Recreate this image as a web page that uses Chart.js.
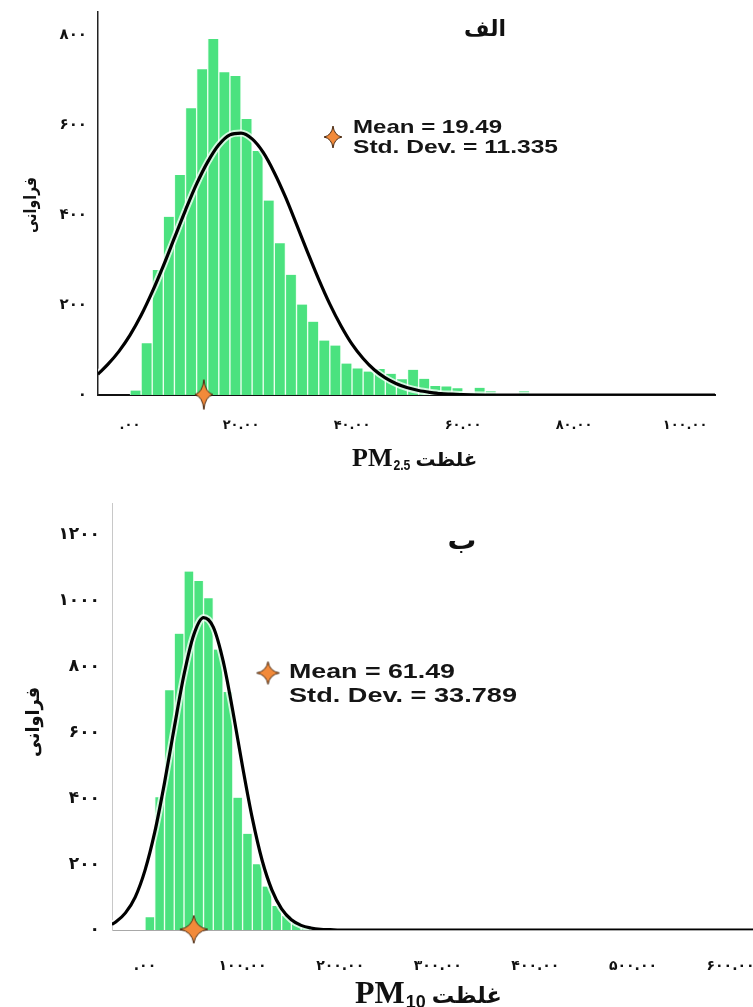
<!DOCTYPE html>
<html><head><meta charset="utf-8">
<script src="https://cdn.jsdelivr.net/npm/chart.js@4.4.0/dist/chart.umd.min.js"></script>
<style>
html,body{margin:0;padding:0;background:#fff;overflow:hidden;}
#w1{position:absolute;left:0;top:0;width:753px;height:490px;}
#w2{position:absolute;left:0;top:490px;width:753px;height:517px;}
</style></head><body>
<div id="w1"><canvas id="c1"></canvas></div>
<div id="w2"><canvas id="c2"></canvas></div>
<script>
// ---------- Chart A (PM2.5) ----------
const binWidthA = 2;
const binStartsA = [0,2,4,6,8,10,12,14,16,18,20,22,24,26,28,30,32,34,36,38,40,42,44,46,48,50,52,54,56,58,60,62,64,66,68,70];
const countsA    = [10,115,278,396,489,637,724,791,717,709,613,542,432,337,267,201,163,121,110,70,59,52,58,47,35,56,36,20,19,15,5,16,9,0,0,9];
const curveXA = [-5.8,-4,-2,0,2,4,6,8,10,12,14,16,18,20,22,24,26,28,30,32,34,36,38,40,42,44,46,48,50,52,54,56,58,60,65,70,80,90,100,105.4];
const curveYA = [46,68,97,133,177,229,287,349,411,469,518,556,578,582,569,539,494,440,379,317,257,202,154,113,81,56,38,25,16,10,6,3,2,1,0,0,0,0,0,0];
const yTicksA = [0,200,400,600,800];
const yTickLabelsA = ['۰','۲۰۰','۴۰۰','۶۰۰','۸۰۰'];
const xTicksA = [0,20,40,60,80,100];
const xTickLabelsA = ['.۰۰','۲۰.۰۰','۴۰.۰۰','۶۰.۰۰','۸۰.۰۰','۱۰۰.۰۰'];
const markerA = [{x:13.3, y:1}];
const meanA = '19.49', sdA = '11.335';

// ---------- Chart B (PM10) ----------
const binWidthB = 10;
const binStartsB = [0,10,20,30,40,50,60,70,80,90,100,110,120,130,140,150,160,170];
const countsB    = [39,403,728,900,1089,1060,1008,852,723,402,292,200,132,73,43,23,11,4];
const curveXB = [-34,-30,-20,-10,0,10,20,30,40,50,60,70,80,90,100,110,120,130,140,150,160,170,180,190,200,250,300,400,500,623];
const curveYB = [17,24,52,100,181,297,447,615,776,897,949,920,818,665,496,339,212,122,64,31,14,6,2,1,0,0,0,0,0,0];
const yTicksB = [0,200,400,600,800,1000,1200];
const yTickLabelsB = ['۰','۲۰۰','۴۰۰','۶۰۰','۸۰۰','۱۰۰۰','۱۲۰۰'];
const xTicksB = [0,100,200,300,400,500,600];
const xTickLabelsB = ['.۰۰','۱۰۰.۰۰','۲۰۰.۰۰','۳۰۰.۰۰','۴۰۰.۰۰','۵۰۰.۰۰','۶۰۰.۰۰'];
const markerB = [{x:50, y:2}];
const meanB = '61.49', sdB = '33.789';

const titleA = 'الف', titleB = 'ب';
const yTitle = 'فراوانی';
const xTitleWord = 'غلظت';

function starImage(w, h) {
  const c = document.createElement('canvas'); c.width = w + 2; c.height = h + 2;
  const g = c.getContext('2d');
  const cx = c.width / 2, cy = c.height / 2, rx = w / 2, ry = h / 2, ix = rx * 0.14, iy = ry * 0.14;
  g.beginPath();
  g.moveTo(cx, cy - ry);
  g.quadraticCurveTo(cx + ix, cy - iy, cx + rx, cy);
  g.quadraticCurveTo(cx + ix, cy + iy, cx, cy + ry);
  g.quadraticCurveTo(cx - ix, cy + iy, cx - rx, cy);
  g.quadraticCurveTo(cx - ix, cy - iy, cx, cy - ry);
  g.closePath();
  g.fillStyle = '#f28a3a'; g.fill();
  g.lineWidth = 1; g.strokeStyle = '#4a2a12'; g.stroke();
  return c;
}

function fitText(ctx, text, x, y, font, targetW, align, rot) {
  ctx.save();
  ctx.font = font;
  const w = ctx.measureText(text).width;
  const s = targetW ? targetW / w : 1;
  ctx.translate(x, y);
  if (rot) ctx.rotate(rot);
  ctx.scale(s, 1);
  ctx.textAlign = align || 'left';
  ctx.fillText(text, 0, 0);
  ctx.restore();
  return w * s;
}

function makeChart(id, o) {
  const W = 753;
  const decor = {
    id: 'decor',
    afterDraw(chart) {
      const ctx = chart.ctx;
      ctx.save();
      ctx.fillStyle = '#111';
      ctx.textBaseline = 'middle';
      fitText(ctx, o.title, o.titlePos[0], o.titlePos[1], o.titleFont, o.titleW, 'center');
      fitText(ctx, yTitle, o.yTitlePos[0], o.yTitlePos[1], o.yTitleFont, o.yTitleW, 'center', -Math.PI / 2);
      ctx.textBaseline = 'alphabetic';
      let x = o.xt.x;
      x += fitText(ctx, 'PM', x, o.xt.base, o.xt.pmFont, 0, 'left');
      x += fitText(ctx, o.xt.sub, x + 1, o.xt.base + o.xt.subDrop, o.xt.subFont, o.xt.subW, 'left') + o.xt.gap;
      fitText(ctx, xTitleWord, x, o.xt.base, o.xt.wordFont, o.xt.wordW, 'left');
      const st = o.legendStar;
      ctx.drawImage(st.img, st.x - st.img.width / 2, st.y - st.img.height / 2);
      ctx.fillStyle = '#151515';
      fitText(ctx, 'Mean = ' + o.mean, o.leg.x, o.leg.b1, o.leg.font, o.leg.w1, 'left');
      fitText(ctx, 'Std. Dev. = ' + o.sd, o.leg.x, o.leg.b2, o.leg.font, o.leg.w2, 'left');
      ctx.restore();
    }
  };
  const barData = o.binStarts.map((b, i) => ({ x: b + o.binWidth / 2, y: o.counts[i] }));
  const curve = o.curveX.map((v, i) => ({ x: v, y: o.curveY[i] }));
  return new Chart(document.getElementById(id), {
    type: 'bar',
    data: {
      datasets: [
        { type: 'scatter', data: o.marker, pointStyle: o.markerImg, pointRadius: 10, order: 0, clip: false },
        { type: 'line', data: curve, borderColor: '#000', borderWidth: 3.2, pointRadius: 0, cubicInterpolationMode: 'monotone', fill: false, order: 1 },
        { type: 'line', data: curve, borderColor: 'rgba(255,255,255,0.75)', borderWidth: 7, pointRadius: 0, cubicInterpolationMode: 'monotone', fill: false, order: 2 },
        { type: 'bar', data: barData, backgroundColor: '#4be27f', borderColor: 'rgba(235,255,240,0.9)', borderWidth: { left: 1, right: 1, top: 0, bottom: 0 }, borderSkipped: false, barPercentage: 1, categoryPercentage: 1, order: 3 }
      ]
    },
    options: {
      responsive: true, maintainAspectRatio: false, animation: false,
      layout: { autoPadding: false, padding: { left: 0, top: o.area.top, right: W - o.area.right, bottom: 0 } },
      plugins: { legend: { display: false }, tooltip: { enabled: false } },
      scales: {
        x: {
          type: 'linear', min: o.xMin, max: o.xMax, offset: false,
          grid: { display: false, drawTicks: false, offset: false },
          border: { display: true, color: o.xBorder, width: o.xBorderW },
          ticks: {
            autoSkip: false, maxRotation: 0, minRotation: 0, padding: o.xPad,
            font: { family: 'DejaVu Sans', weight: 'bold', size: o.xTickSize }, color: '#111',
            callback: (v) => o.xLabels[o.xTicks.indexOf(v)]
          },
          afterBuildTicks: s => { s.ticks = o.xTicks.map(v => ({ value: v })); },
          afterFit: s => { s.height = o.H - o.area.bottom; s.paddingLeft = 0; s.paddingRight = 0; }
        },
        y: {
          type: 'linear', min: 0, max: o.yMax,
          grid: { display: false, drawTicks: false },
          border: { display: true, color: o.yBorder, width: o.yBorderW },
          ticks: {
            padding: o.yPad,
            font: { family: 'DejaVu Sans', weight: 'bold', size: o.yTickSize }, color: '#111',
            callback: (v) => o.yLabels[o.yTicks.indexOf(v)]
          },
          afterBuildTicks: s => { s.ticks = o.yTicks.map(v => ({ value: v })); },
          afterFit: s => { s.width = o.area.left; s.paddingTop = 0; s.paddingBottom = 0; }
        }
      }
    },
    plugins: [decor]
  });
}

makeChart('c1', {
  H: 490, area: { left: 98, right: 715, top: 12, bottom: 395 },
  xMin: -5.77, xMax: 105.4, yMax: 851,
  binStarts: binStartsA, binWidth: binWidthA, counts: countsA, curveX: curveXA, curveY: curveYA,
  xTicks: xTicksA, xLabels: xTickLabelsA, yTicks: yTicksA, yLabels: yTickLabelsA,
  marker: markerA, markerImg: starImage(18, 30),
  xBorder: '#111', xBorderW: 2, yBorder: '#222', yBorderW: 1.5,
  xPad: 23, xTickSize: 13, yPad: 11, yTickSize: 15,
  title: titleA, titlePos: [485, 30], titleFont: 'bold 22px "DejaVu Sans"', titleW: 42,
  yTitlePos: [32, 205], yTitleFont: 'bold 17px "DejaVu Sans"', yTitleW: 56,
  xt: { x: 352, base: 466, pmFont: 'bold 26px "Liberation Serif"', sub: '2.5', subDrop: 4, subFont: 'bold 15px "Liberation Sans Narrow", "Liberation Sans"', subW: 17, gap: 6, wordFont: 'bold 19px "DejaVu Sans"', wordW: 62 },
  legendStar: { img: starImage(18, 22), x: 333, y: 137 },
  leg: { x: 353, b1: 133, b2: 153, font: 'bold 19px "Liberation Sans"', w1: 149, w2: 205 },
  mean: meanA, sd: sdA
});

makeChart('c2', {
  H: 517, area: { left: 112, right: 753, top: 13, bottom: 440 },
  xMin: -33.8, xMax: 623, yMax: 1297,
  binStarts: binStartsB, binWidth: binWidthB, counts: countsB, curveX: curveXB, curveY: curveYB,
  xTicks: xTicksB, xLabels: xTickLabelsB, yTicks: yTicksB, yLabels: yTickLabelsB,
  marker: markerB, markerImg: starImage(28, 28),
  xBorder: '#a8a8a8', xBorderW: 1, yBorder: '#c8c8c8', yBorderW: 1,
  xPad: 28, xTickSize: 14, yPad: 12, yTickSize: 17,
  title: titleB, titlePos: [462, 52], titleFont: 'bold 26px "DejaVu Sans"', titleW: 29,
  yTitlePos: [34, 232], yTitleFont: 'bold 19px "DejaVu Sans"', yTitleW: 70,
  xt: { x: 355, base: 513, pmFont: 'bold 32px "Liberation Serif"', sub: '10', subDrop: 5, subFont: 'bold 18px "Liberation Sans Narrow", "Liberation Sans"', subW: 20, gap: 7, wordFont: 'bold 22px "DejaVu Sans"', wordW: 70 },
  legendStar: { img: starImage(23, 23), x: 268, y: 183 },
  leg: { x: 289, b1: 188, b2: 212, font: 'bold 21px "Liberation Sans"', w1: 166, w2: 228 },
  mean: meanB, sd: sdB
});
</script>
</body></html>
